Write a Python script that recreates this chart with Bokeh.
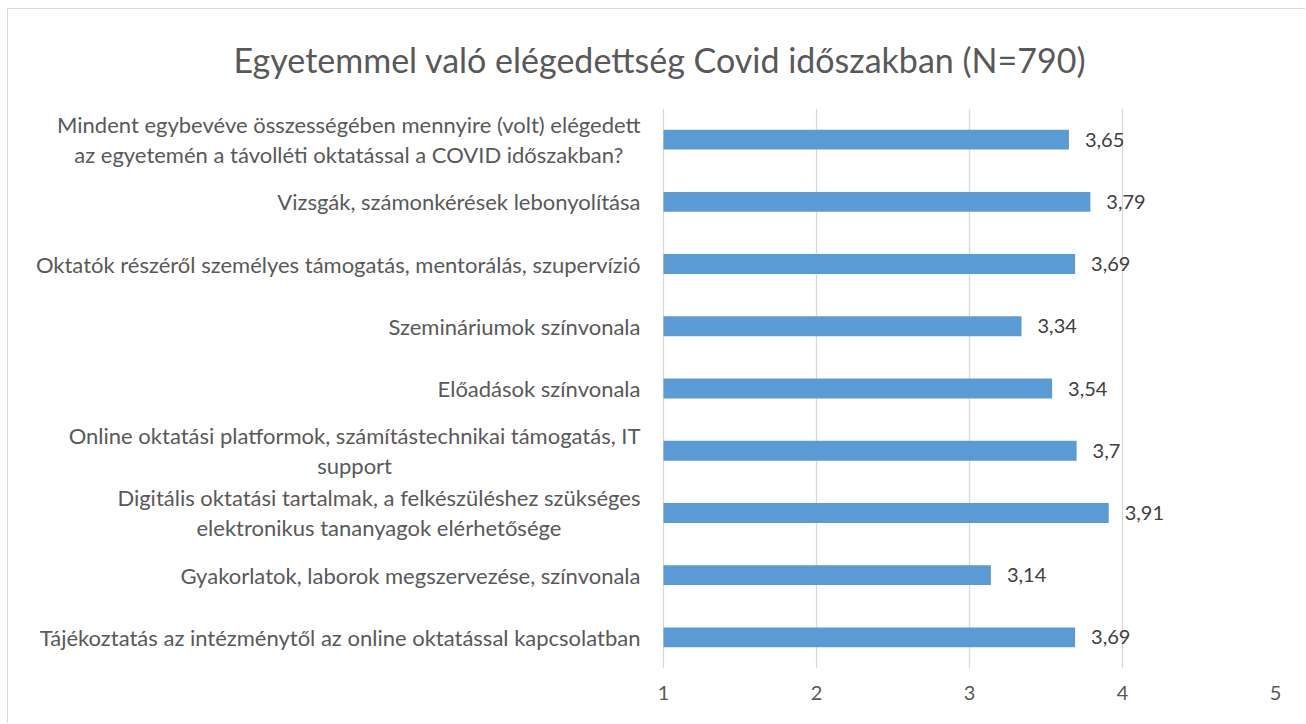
import glob
import subprocess
from bokeh.plotting import figure
from bokeh.models import FactorRange, Range1d, FixedTicker, ColumnDataSource, LabelSet, Title
from bokeh.core.properties import value
from bokeh.embed import file_html
from bokeh.resources import INLINE

title_text = "Egyetemmel való elégedettség Covid időszakban (N=790)"
categories = [
    "Mindent egybevéve összességében mennyire (volt) elégedett\naz egyetemén a távolléti oktatással a COVID időszakban?",
    "Vizsgák, számonkérések lebonyolítása",
    "Oktatók részéről személyes támogatás, mentorálás, szupervízió",
    "Szemináriumok színvonala",
    "Előadások színvonala",
    "Online oktatási platformok, számítástechnikai támogatás, IT\nsupport",
    "Digitális oktatási tartalmak, a felkészüléshez szükséges\nelektronikus tananyagok elérhetősége",
    "Gyakorlatok, laborok megszervezése, színvonala",
    "Tájékoztatás az intézménytől az online oktatással kapcsolatban",
]
values = [3.65, 3.79, 3.69, 3.34, 3.54, 3.7, 3.91, 3.14, 3.69]
x_ticks = [1, 2, 3, 4, 5]
axis_min, axis_max = 1, 5

FONT = "Lato"
TXT = "#595959"
CAT_SIZE = 22
TITLE_SIZE = 34
CAT_GAP = 23
LINE_STEP = 15

W, H = 1298, 715
LABEL_AREA = 655      # px left of the value axis reserved for category labels
PLOT_W = 612          # px between axis_min and axis_max
RIGHT_PAD = W - LABEL_AREA - PLOT_W
TOP_PAD, BOTTOM_PAD = 99, 56
TITLE_CENTER = 651


def find_font_file():
    try:
        out = subprocess.run(["fc-match", "-f", "%{file}", "Lato:style=Regular"],
                             capture_output=True, text=True, timeout=5).stdout.strip()
        if out and "lato" in out.lower():
            return out
    except Exception:
        pass
    for pat in ["/usr/share/fonts/**/Lato-Regular.ttf", "/usr/share/fonts/**/Lato-Reg*.ttf",
                "/usr/local/share/fonts/**/Lato-Regular.ttf"]:
        hits = glob.glob(pat, recursive=True)
        if hits:
            return hits[0]
    return None


_fonts = {}
try:
    from PIL import ImageFont
    _path = find_font_file()
    if _path:
        _fonts = {CAT_SIZE: ImageFont.truetype(_path, CAT_SIZE),
                  TITLE_SIZE: ImageFont.truetype(_path, TITLE_SIZE)}
except Exception:
    _fonts = {}


def text_width(s, size):
    f = _fonts.get(size)
    if f is not None:
        return f.getlength(s)
    return 0.465 * size * len(s)


# category labels, each line drawn separately so that lines are centred like in Excel
lab_cat, lab_text, lab_xoff, lab_yoff, lab_align = [], [], [], [], []
for c in categories:
    lines = c.split("\n")
    wmax = max(text_width(l, CAT_SIZE) for l in lines)
    n = len(lines)
    for i, l in enumerate(lines):
        lab_cat.append(c)
        lab_text.append(l)
        lab_yoff.append((n - 1) * LINE_STEP - i * LINE_STEP * 2)
        if n == 1:
            lab_xoff.append(-CAT_GAP)
            lab_align.append("right")
        else:
            lab_xoff.append(-CAT_GAP - wmax / 2)
            lab_align.append("center")

cat_src = ColumnDataSource(dict(cat=lab_cat, text=lab_text, xoff=lab_xoff, yoff=lab_yoff,
                                align=lab_align, x=[axis_min] * len(lab_cat)))

labels = [f"{v:g}".replace(".", ",") for v in values]
src = ColumnDataSource(dict(cat=categories, val=values, lab=labels,
                            left=[axis_min] * len(values)))

x_start = axis_min - LABEL_AREA * (axis_max - axis_min) / PLOT_W

p = figure(width=W, height=H, output_backend="svg", toolbar_location=None,
           y_range=FactorRange(factors=list(reversed(categories))),
           x_range=Range1d(x_start, axis_max),
           min_border_left=0, min_border_right=RIGHT_PAD,
           min_border_top=TOP_PAD, min_border_bottom=BOTTOM_PAD,
           styles={"margin-left": "7px", "margin-top": "8px",
                   "border-left": "1px solid #d9d9d9", "border-top": "1px solid #d9d9d9"})
p.outline_line_color = None
p.background_fill_color = "white"
p.border_fill_color = "white"

p.hbar(y="cat", left="left", right="val", height=0.32, source=src,
       fill_color="#5B9BD5", line_color=None)

p.add_layout(LabelSet(x="val", y="cat", text="lab", source=src, x_offset=16,
                      text_baseline="middle", text_align="left",
                      text_font=value(FONT), text_font_size="20px", text_color="#404040"))

p.add_layout(LabelSet(x="x", y="cat", text="text", source=cat_src, x_offset="xoff",
                      y_offset="yoff", text_align="align", text_baseline="middle",
                      text_font=value(FONT), text_font_size=f"{CAT_SIZE}px", text_color=TXT))

p.xaxis.ticker = FixedTicker(ticks=x_ticks)
p.xaxis.axis_line_color = None
p.xaxis.major_tick_line_color = None
p.xaxis.minor_tick_line_color = None
p.xaxis.major_label_text_font = FONT
p.xaxis.major_label_text_font_size = "20px"
p.xaxis.major_label_text_color = TXT
p.xaxis.major_label_standoff = 11

p.yaxis.visible = False

p.xgrid.grid_line_color = "#d9d9d9"
p.xgrid.grid_line_width = 1.3
p.ygrid.grid_line_color = None

title_w = text_width(title_text, TITLE_SIZE)
p.title = Title(text=title_text, align="left", offset=TITLE_CENTER - title_w / 2,
                standoff=56, vertical_align="middle", text_font=FONT,
                text_font_size=f"{TITLE_SIZE}px", text_font_style="normal", text_color=TXT)

open("out.html", "w").write(file_html(p, INLINE))
